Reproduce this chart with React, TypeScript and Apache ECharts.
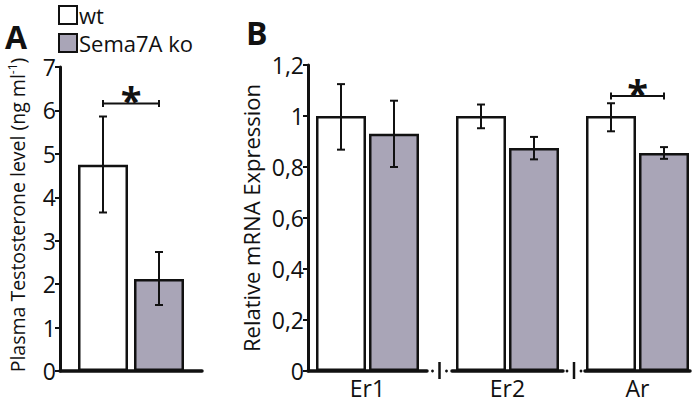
import React, { useEffect, useRef } from 'react';
import * as echarts from 'echarts';

// ---------- data ----------
const seriesNames = ['wt', 'Sema7A ko'];

// Panel A: plasma testosterone (ng/ml)
const testosteroneWt = [4.75];
const testosteroneKo = [2.12];
const testosteroneWtErr = [[3.65, 5.86]]; // [low, high]
const testosteroneKoErr = [[1.52, 2.74]];
const testosteroneSig = [6.16]; // significance bracket level
const ticksA = ['0', '1', '2', '3', '4', '5', '6', '7'];

// Panel B: relative mRNA expression
const genes = ['Er1', 'Er2', 'Ar'];
const mrnaWt = [1.0, 1.0, 1.0];
const mrnaKo = [0.93, 0.875, 0.855];
const mrnaWtErr = [[0.868, 1.125], [0.952, 1.045], [0.94, 1.05]];
const mrnaKoErr = [[0.8, 1.06], [0.83, 0.918], [0.832, 0.878]];
const mrnaSig: (number | null)[] = [null, null, 1.078];
const ticksB = ['0', '0,2', '0,4', '0,6', '0,8', '1', '1,2'];

// ---------- style ----------
const FONT = 'Open Sans';
const INK = '#111111';
const KO_FILL = '#a9a5b7';
const BAR_W = 50;

export default function App() {
  const ref = useRef<HTMLDivElement>(null);

  useEffect(() => {
    document.body.style.margin = '0';
    const chart = echarts.init(ref.current!, null, { renderer: 'svg' });

    const gridA = { left: 60, top: 67, width: 142, height: 304 };
    const gridsB = [
      { left: 308, top: 65, width: 119, height: 306 },
      { left: 452, top: 65, width: 111, height: 306 },
      { left: 585, top: 65, width: 105, height: 306 },
    ];

    const gapA = 0.12;
    const gapB = 0.06;
    const offA = (BAR_W + BAR_W * gapA) / 2;
    const offB = (BAR_W + BAR_W * gapB) / 2;

    const axisLineX = { show: true, lineStyle: { color: INK, width: 3.5 } };
    const axisLineY = { show: true, lineStyle: { color: INK, width: 3 } };

    const xAxis: any[] = [
      {
        type: 'category', gridIndex: 0, data: [''],
        axisLine: axisLineX, axisTick: { show: false }, axisLabel: { show: false },
      },
      ...genes.map((g, i) => ({
        type: 'category', gridIndex: i + 1, data: [g],
        axisLine: axisLineX, axisTick: { show: false },
        axisLabel: { show: true, color: INK, fontSize: 23, fontFamily: FONT, margin: 5 },
      })),
    ];

    const yAxis: any[] = [
      {
        type: 'value', gridIndex: 0, min: 0, max: 7, interval: 1,
        axisLine: axisLineY,
        axisTick: { show: true, length: 5, lineStyle: { color: INK, width: 2 } },
        axisLabel: {
          color: INK, fontSize: 23, fontFamily: FONT, margin: 4,
          formatter: (v: number) => ticksA[Math.round(v)] ?? '',
        },
        splitLine: { show: false },
      },
      ...genes.map((_, i) => ({
        type: 'value', gridIndex: i + 1, min: 0, max: 1.2, interval: 0.2,
        show: i === 0,
        axisLine: axisLineY,
        axisTick: { show: true, length: 5, lineStyle: { color: INK, width: 2 } },
        axisLabel: {
          color: INK, fontSize: 23, fontFamily: FONT, margin: 4,
          formatter: (v: number) => ticksB[Math.round(v / 0.2)] ?? '',
        },
        splitLine: { show: false },
        name: i === 0 ? 'Relative mRNA Expression' : '',
        nameLocation: 'middle', nameGap: 46,
        nameTextStyle: { color: INK, fontSize: 22, fontFamily: FONT, overflow: 'none' },
      })),
    ];

    const barStyle = (fill: string) => ({ color: fill, borderColor: INK, borderWidth: 2.5 });

    const errorSeries = (axisIdx: number, errs: number[][][], off: number) => ({
      type: 'custom',
      xAxisIndex: axisIdx, yAxisIndex: axisIdx,
      silent: true, z: 5,
      data: errs.flatMap((pair, ci) => pair.map((e, si) => [ci, e[0], e[1], si])),
      renderItem: (_p: any, api: any) => {
        const ci = api.value(0);
        const lo = api.coord([ci, api.value(1)]);
        const hi = api.coord([ci, api.value(2)]);
        const si = api.value(3);
        const x = lo[0] + (si === 0 ? -off : off);
        const cap = 4;
        const st = { stroke: INK, lineWidth: 2 };
        return {
          type: 'group',
          children: [
            { type: 'line', shape: { x1: x, y1: lo[1], x2: x, y2: hi[1] }, style: st },
            { type: 'line', shape: { x1: x - cap, y1: lo[1], x2: x + cap, y2: lo[1] }, style: st },
            { type: 'line', shape: { x1: x - cap, y1: hi[1], x2: x + cap, y2: hi[1] }, style: st },
          ],
        };
      },
    });

    const sigSeries = (axisIdx: number, level: number, off: number) => ({
      type: 'custom',
      xAxisIndex: axisIdx, yAxisIndex: axisIdx,
      silent: true, z: 6,
      data: [[0, level]],
      renderItem: (_p: any, api: any) => {
        const p = api.coord([api.value(0), api.value(1)]);
        const x1 = p[0] - off;
        const x2 = p[0] + off;
        const y = p[1];
        const st = { stroke: INK, lineWidth: 2 };
        return {
          type: 'group',
          children: [
            { type: 'line', shape: { x1, y1: y, x2, y2: y }, style: st },
            { type: 'line', shape: { x1, y1: y - 3.5, x2: x1, y2: y + 3.5 }, style: st },
            { type: 'line', shape: { x1: x2, y1: y - 3.5, x2, y2: y + 3.5 }, style: st },
            {
              type: 'text', x: p[0], y: y - 3,
              style: {
                text: '*', fill: INK, fontSize: 38, fontWeight: 'bold', fontFamily: FONT,
                align: 'center', verticalAlign: 'middle',
              },
            },
          ],
        };
      },
    });

    const series: any[] = [
      {
        name: seriesNames[0], type: 'bar', xAxisIndex: 0, yAxisIndex: 0,
        data: testosteroneWt, barWidth: BAR_W, barGap: `${gapA * 100}%`,
        itemStyle: barStyle('#ffffff'),
      },
      {
        name: seriesNames[1], type: 'bar', xAxisIndex: 0, yAxisIndex: 0,
        data: testosteroneKo, barWidth: BAR_W, barGap: `${gapA * 100}%`,
        itemStyle: barStyle(KO_FILL),
      },
      errorSeries(0, [[testosteroneWtErr[0], testosteroneKoErr[0]]], offA),
      sigSeries(0, testosteroneSig[0], offA),
    ];

    genes.forEach((_, i) => {
      const ax = i + 1;
      series.push(
        {
          name: seriesNames[0], type: 'bar', xAxisIndex: ax, yAxisIndex: ax,
          data: [mrnaWt[i]], barWidth: BAR_W, barGap: `${gapB * 100}%`,
          itemStyle: barStyle('#ffffff'),
        },
        {
          name: seriesNames[1], type: 'bar', xAxisIndex: ax, yAxisIndex: ax,
          data: [mrnaKo[i]], barWidth: BAR_W, barGap: `${gapB * 100}%`,
          itemStyle: barStyle(KO_FILL),
        },
        errorSeries(ax, [[mrnaWtErr[i], mrnaKoErr[i]]], offB),
      );
      const s = mrnaSig[i];
      if (s != null) series.push(sigSeries(ax, s, offB));
    });

    // axis break marks between the gene segments
    const baseY = gridsB[0].top + gridsB[0].height;
    const breaks: any[] = [];
    for (let i = 0; i < gridsB.length - 1; i++) {
      const endX = gridsB[i].left + gridsB[i].width;
      const startX = gridsB[i + 1].left;
      const mx = (endX + startX) / 2;
      breaks.push(
        { type: 'circle', shape: { cx: mx - 7, cy: baseY, r: 1.4 }, style: { fill: INK } },
        { type: 'circle', shape: { cx: mx + 7, cy: baseY, r: 1.4 }, style: { fill: INK } },
        { type: 'line', shape: { x1: mx, y1: baseY - 9, x2: mx, y2: baseY + 8 }, style: { stroke: INK, lineWidth: 2.5 } },
      );
    }

    // panel A y-axis title (with superscript), centred on the grid's height
    const titleA = {
      type: 'text',
      x: 17,
      y: gridA.top + gridA.height / 2 - 4,
      rotation: Math.PI / 2,
      style: {
        text: 'Plasma Testosterone level (ng ml{sup|-1})',
        fill: INK, fontSize: 19.5, fontFamily: FONT,
        align: 'center', verticalAlign: 'middle',
        rich: { sup: { fontSize: 12, fontFamily: FONT, fill: INK, verticalAlign: 'top', padding: [0, 0, 9, 0] } },
      },
    };

    chart.setOption({
      animation: false,
      backgroundColor: '#ffffff',
      textStyle: { fontFamily: FONT },
      grid: [gridA, ...gridsB].map((g) => ({ ...g, containLabel: false })),
      legend: {
        data: seriesNames,
        orient: 'vertical',
        left: 58, top: 4,
        itemWidth: 18, itemHeight: 18, itemGap: 6,
        icon: 'rect',
        padding: 0,
        textStyle: { color: INK, fontSize: 22, fontFamily: FONT, padding: [0, 0, 0, -3] },
      },
      xAxis, yAxis, series,
      graphic: [
        { type: 'text', left: 5, top: 20, style: { text: 'A', fontSize: 32, fontWeight: 'bold', fontFamily: FONT, fill: INK } },
        { type: 'text', left: 246, top: 16, style: { text: 'B', fontSize: 32, fontWeight: 'bold', fontFamily: FONT, fill: INK } },
        titleA,
        ...breaks,
      ],
    });

    return () => chart.dispose();
  }, []);

  return <div ref={ref} style={{ width: 697, height: 405 }} />;
}
